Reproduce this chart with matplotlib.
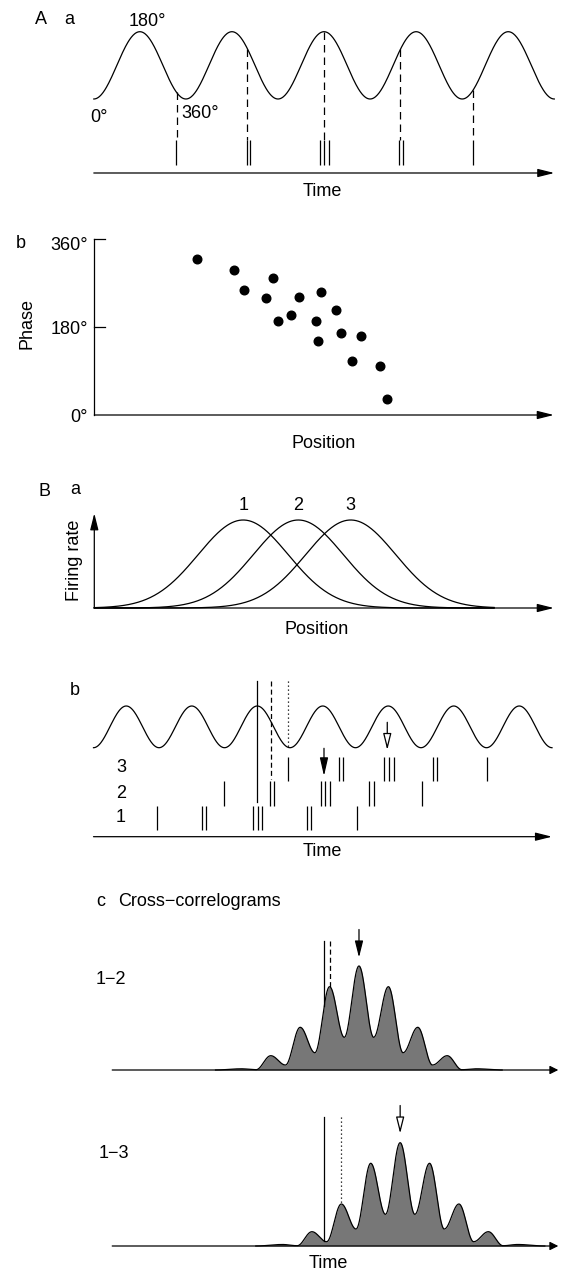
"""
Phase precession schematic: theta phase of spikes (A) and
theta-scale vs behavioural-scale timing of place-cell sequences (B).
Output: out.png
"""
import matplotlib.pyplot as plt
import numpy as np

plt.rcParams["font.family"] = ["Liberation Sans", "DejaVu Sans"]
plt.rcParams["font.size"] = 13

W, H = 562, 1274
LW = 0.9
GREY = "#777777"

# ---- A a: one cell's spikes on a theta wave (time in theta cycles)
A_CYCLES = 5
a_spikes = [0.892, 1.660, 1.696, 2.456, 2.503, 2.557, 3.311, 3.361, 4.117]
a_marks = [0.898, 1.667, 2.504, 3.329, 4.117]

# ---- A b: spike phase (deg) vs position (% of track)
pos_b = [22.4, 30.3, 32.5, 38.9, 37.4, 40.0, 42.9, 44.6, 49.4,
         48.2, 48.6, 52.6, 53.7, 58.0, 56.1, 62.2, 63.6]
phase_b = [320, 296, 255, 280, 239, 192, 205, 242, 252,
           192, 151, 215, 168, 161, 111, 101, 33]

# ---- B a: three overlapping place fields
field_centers = [32.4, 44.4, 55.8]
field_width = 9.8
field_names = ["1", "2", "3"]

# ---- B b: spikes of cells 1-3 (time in theta cycles)
B_CYCLES = 7
spikes_1 = [0.974, 1.652, 1.718, 2.440, 2.507, 2.577, 3.255, 3.321, 4.023]
spikes_2 = [1.997, 2.695, 2.756, 3.469, 3.539, 3.611, 4.211, 4.287, 5.020]
spikes_3 = [2.974, 3.744, 3.805, 4.435, 4.507, 4.583, 5.179, 5.240, 6.015]
t_solid, t_dashed, t_dotted = 2.492, 2.715, 2.974
t_arrow_12, t_arrow_13 = 3.519, 4.485

# ---- B c: cross-correlograms, extrema (lag in theta cycles, counts)
cc12_lag = [-3.70, -2.82, -2.32, -1.82, -1.32, -0.82, -0.32, 0.18, 0.68, 1.18,
            1.68, 2.18, 2.68, 3.18, 3.68, 4.18, 4.68, 5.18, 6.05]
cc12_val = [0, 1.2, 0.3, 14.3, 5.0, 42.7, 17.3, 83.3, 32.7, 104,
            32.7, 83.3, 17.3, 42.7, 5.0, 14.3, 0.3, 1.2, 0]
cc13_lag = [-2.33, -1.42, -0.92, -0.42, 0.08, 0.58, 1.08, 1.58, 2.08, 2.58,
            3.08, 3.58, 4.08, 4.58, 5.08, 5.58, 6.08, 6.58, 7.50]
cc13_val = [0, 1.5, 0.3, 14.3, 4.3, 42.0, 17.0, 82.7, 31.7, 103.3,
            31.7, 82.7, 17.0, 42.0, 4.3, 14.3, 0.3, 1.5, 0]
cc12_theta, cc12_peak = 0.18, 1.18
cc13_theta, cc13_peak = 0.58, 2.58

fig = plt.figure(figsize=(W / 100, H / 100), dpi=100)


def band(top, bottom, xref, yref):
    """Full-width axes between pixel rows; xref/yref = (v0, px0, v1, px1)."""
    ax = fig.add_axes([0, 1 - bottom / H, 1, (bottom - top) / H])
    v0, p0, v1, p1 = xref
    k = (v1 - v0) / (p1 - p0)
    ax.set_xlim(v0 - p0 * k, v0 + (W - p0) * k)
    v0, p0, v1, p1 = yref
    k = (v1 - v0) / (p1 - p0)
    ax.set_ylim(v0 + (bottom - p0) * k, v0 + (top - p0) * k)
    ax.axis("off")
    return ax


def label(x, y, s, ha="center", va="center", **kw):
    fig.text(x / W, 1 - y / H, s, ha=ha, va=va, **kw)


def arrow(ax, start, tip, fc="black", hl=1.0, hw=0.25, lw=LW):
    ax.annotate("", xy=tip, xytext=start, annotation_clip=False,
                arrowprops=dict(arrowstyle=f"-|>,head_length={hl},head_width={hw}",
                                mutation_scale=10, lw=lw, fc=fc, ec="black",
                                shrinkA=0, shrinkB=0))


def theta(t):
    return -np.cos(2 * np.pi * np.asarray(t))


def smooth_through(lags, vals, n=40):
    xs, ys = [], []
    for x0, y0, x1, y1 in zip(lags[:-1], vals[:-1], lags[1:], vals[1:]):
        s = np.linspace(0, 1, n, endpoint=False)
        xs.append(x0 + (x1 - x0) * s)
        ys.append(y0 + (y1 - y0) * (1 - np.cos(np.pi * s)) / 2)
    xs.append([lags[-1]])
    ys.append([vals[-1]])
    return np.concatenate(xs), np.concatenate(ys)


# ===================== A a =====================
ax = band(0, 205, (0, 93.8, A_CYCLES, 554.3), (1, 31.7, -1, 99))
t = np.linspace(0, A_CYCLES, 800)
ax.plot(t, theta(t), color="black", lw=LW)
ax.vlines(a_spikes, -2.947, -2.233, color="black", lw=LW)
for m in a_marks:
    ax.plot([m, m], [theta(m), -2.233], color="black", lw=LW, dashes=(6, 4))
arrow(ax, (0, -3.199), (A_CYCLES, -3.199))
label(35, 19, "A", ha="left")
label(64, 19, "a", ha="left")
label(147, 22, "180°")
label(90, 117, "0°", ha="left")
label(181, 113, "360°", ha="left")
label(322, 192, "Time")

# ===================== A b =====================
ax = band(205, 430, (0, 94.3, 100, 553.8), (0, 415, 360, 239))
ax.plot([0, 0], [0, 360], color="black", lw=LW)
for tick in (180, 360):
    ax.plot([0, 2.3], [tick, tick], color="black", lw=LW)
arrow(ax, (0, 0), (100, 0))
ax.plot(pos_b, phase_b, "o", ms=6.2, color="black")
label(21, 244, "b")
label(88, 245, "360°", ha="right")
label(88, 330, "180°", ha="right")
label(88, 418, "0°", ha="right")
label(27, 323, "Phase", rotation=90)
label(324, 443, "Position")

# ===================== B a =====================
ax = band(430, 650, (0, 94.3, 100, 553.8), (0, 608, 1, 520))
x = np.linspace(0, 87, 500)
for c, name in zip(field_centers, field_names):
    ax.plot(x, np.exp(-(x - c) ** 2 / (2 * field_width ** 2)), color="black", lw=LW)
    ax.text(c, 1.17, name, ha="center", va="center")
arrow(ax, (0, 0), (0, 1.076))
arrow(ax, (0, 0), (100, 0))
label(39, 492, "B", ha="left")
label(70, 490, "a", ha="left")
label(75, 560, "Firing rate", rotation=90)
label(317, 629, "Position")

# ===================== B b =====================
ax = band(650, 870, (0, 93.5, B_CYCLES, 552), (1, 706, -1, 747.7))
t = np.linspace(0, B_CYCLES, 1000)
ax.plot(t, theta(t), color="black", lw=LW)
rows = [(spikes_3, -1.432, -2.597), (spikes_2, -2.597, -3.796), (spikes_1, -3.796, -4.947)]
for times, top, bot in rows:
    ax.vlines(times, bot, top, color="black", lw=LW)
ax.plot([t_solid, t_solid], [2.199, -3.619], color="black", lw=LW)
ax.plot([t_dashed, t_dashed], [2.199, -2.501], color="black", lw=LW, dashes=(4, 2.5))
ax.plot([t_dotted, t_dotted], [2.199, theta(t_dotted)], color="black", lw=LW, dashes=(1, 2.2))
arrow(ax, (t_arrow_12, -1.029), (t_arrow_12, -2.357), hl=1.1, hw=0.25)
arrow(ax, (t_arrow_13, 0.218), (t_arrow_13, -1.110), fc="white", hl=1.0, hw=0.25)
arrow(ax, (0, -5.268), (B_CYCLES, -5.268))
label(70, 691, "b", ha="left")
for y, name in zip((768, 793, 818), ("3", "2", "1")):
    label(121, y, name)
label(322, 852, "Time")

# ===================== B c =====================
label(96, 901, "c", ha="left")
label(118, 901, "Cross\u2212correlograms", ha="left")

panels = [
    (915, 1085, 1070, cc12_lag, cc12_val, cc12_theta, cc12_peak, (4, 2.5), "black"),
    (1090, 1274, 1246, cc13_lag, cc13_val, cc13_theta, cc13_peak, (1, 2.2), "white"),
]
for top, bot, base, lags, vals, th, pk, dash, fc in panels:
    ax = band(top, bot, (0, 324.3, 1, 353.7), (0, base, 100, base - 100))
    cx, cy = smooth_through(lags, vals)
    ax.fill_between(cx, 0, cy, color=GREY, lw=0)
    ax.plot(cx, cy, color="black", lw=LW)
    arrow(ax, (-7.214, 0), (7.959, 0), hl=0.5, hw=0.25)
    ax.plot([0, 0], [129.5, np.interp(0, cx, cy)], color="black", lw=LW)
    ax.plot([th, th], [129.5, np.interp(th, cx, cy)], color="black", lw=LW, dashes=dash)
    arrow(ax, (pk, 140.5), (pk, 112.5), fc=fc, hl=1.0, hw=0.25)

label(111, 980, "1\u22122")
label(114, 1153, "1\u22123")
label(328, 1264, "Time")

fig.savefig("out.png", dpi=100)
